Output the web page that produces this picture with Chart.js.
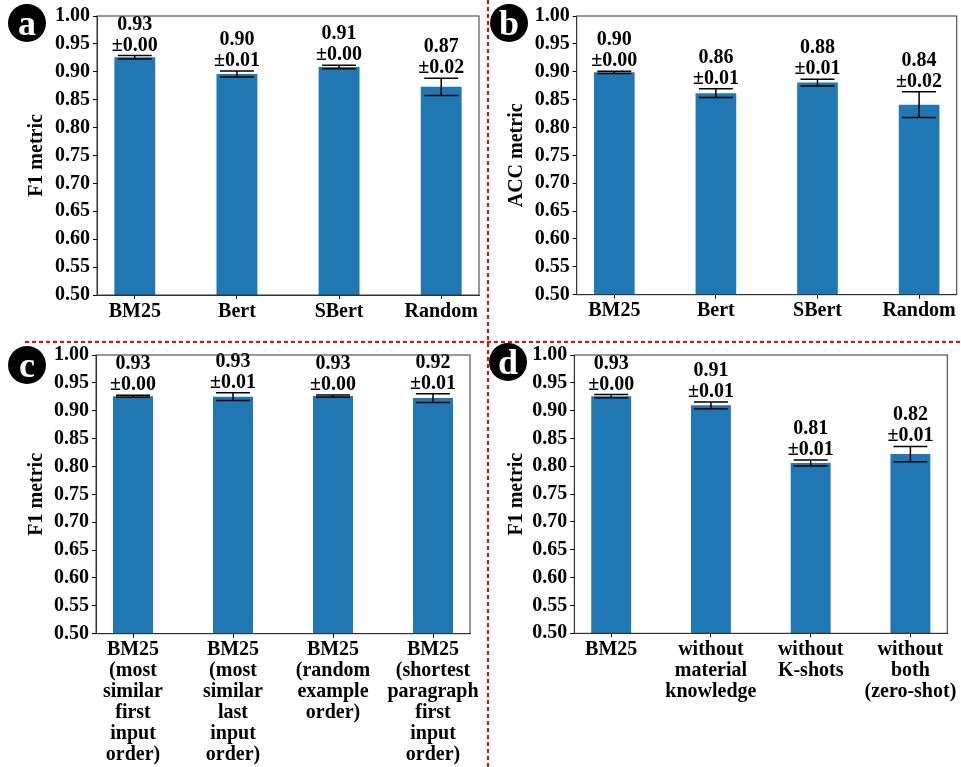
<!DOCTYPE html>
<html>
<head>
<meta charset="utf-8">
<script src="https://cdn.jsdelivr.net/npm/chart.js@4.4.0/dist/chart.umd.min.js"></script>
<style>
  body { margin: 0; background: #fff; }
  #page { position: relative; width: 961px; height: 767px; overflow: hidden; }
  canvas { position: absolute; }
  .tag {
    position: absolute; width: 38px; height: 38px; border-radius: 50%;
    background: #000; color: #fff; text-align: center;
    font: bold 36px "Liberation Serif", serif; line-height: 38px;
  }
  .vline {
    position: absolute; left: 487px; top: 0; width: 1.5px; height: 767px;
    background: repeating-linear-gradient(to bottom, #f00 0 4px, transparent 4px 7px);
  }
  .hline {
    position: absolute; left: 25px; top: 341px; width: 935px; height: 1.5px;
    background: repeating-linear-gradient(to right, #f00 0 4px, transparent 4px 7px);
  }
</style>
</head>
<body>
<div id="page">
  <canvas id="chartA" width="480" height="330" style="left:0;top:0"></canvas>
  <canvas id="chartB" width="481" height="330" style="left:480px;top:0"></canvas>
  <canvas id="chartC" width="480" height="427" style="left:0;top:340px"></canvas>
  <canvas id="chartD" width="481" height="427" style="left:480px;top:340px"></canvas>
  <div class="vline"></div>
  <div class="hline"></div>
  <div class="tag" style="left:8px;top:4px">a</div>
  <div class="tag" style="left:490px;top:4px">b</div>
  <div class="tag" style="left:8px;top:346px">c</div>
  <div class="tag" style="left:489px;top:343px">d</div>
</div>
<script>
// panel a / b : retrieval methods
const retrievalLabels = ["BM25", "Bert", "SBert", "Random"];
const aF1 = [0.926, 0.896, 0.9086, 0.873];
const aF1Err = [0.003, 0.0054, 0.003, 0.0155];
const bAcc = [0.899, 0.8615, 0.8805, 0.841];
const bAccErr = [0.002, 0.0078, 0.006, 0.023];

// panel c : example order
const orderLabels = [
  ["BM25", "(most", "similar", "first", "input", "order)"],
  ["BM25", "(most", "similar", "last", "input", "order)"],
  ["BM25", "(random", "example", "order)"],
  ["BM25", "(shortest", "paragraph", "first", "input", "order)"]
];
const cF1 = [0.926, 0.9252, 0.9264, 0.9228];
const cF1Err = [0.002, 0.0069, 0.002, 0.0078];

// panel d : ablation
const ablationLabels = [
  "BM25",
  ["without", "material", "knowledge"],
  ["without", "K-shots"],
  ["without", "both", "(zero-shot)"]
];
const dF1 = [0.926, 0.9096, 0.806, 0.822];
const dF1Err = [0.003, 0.006, 0.0055, 0.0137];

const yTicks = [0.5, 0.55, 0.6, 0.65, 0.7, 0.75, 0.8, 0.85, 0.9, 0.95, 1.0];

const serif = "'Liberation Serif', 'Times New Roman', serif";
const barBlue = "#1f77b4";

// error bars, value text and the top/right frame
const extras = {
  id: "extras",
  afterDatasetsDraw(chart) {
    const ctx = chart.ctx;
    const xs = chart.scales.x, ys = chart.scales.y;
    const vals = chart.data.datasets[0].data;
    const errs = chart.data.datasets[0].errors;
    ctx.save();
    vals.forEach((p, i) => {
      const x = xs.getPixelForValue(p.x);
      const yHi = ys.getPixelForValue(p.y + errs[i]);
      const yLo = ys.getPixelForValue(p.y - errs[i]);
      ctx.strokeStyle = "#000";
      ctx.lineWidth = 1.5;
      ctx.beginPath();
      ctx.moveTo(x, yHi); ctx.lineTo(x, yLo);
      ctx.moveTo(x - 17, yHi); ctx.lineTo(x + 17, yHi);
      ctx.moveTo(x - 17, yLo); ctx.lineTo(x + 17, yLo);
      ctx.stroke();
      ctx.fillStyle = "#000";
      ctx.font = "bold 20px " + serif;
      ctx.textAlign = "center";
      ctx.textBaseline = "alphabetic";
      ctx.fillText(p.y.toFixed(2), x, yHi - 26);
      ctx.fillText("\u00b1" + errs[i].toFixed(2), x, yHi - 5);
    });
    const a = chart.chartArea;
    ctx.strokeStyle = "#333";
    ctx.lineWidth = 1;
    ctx.strokeRect(a.left, a.top, a.right - a.left, a.bottom - a.top);
    ctx.restore();
  }
};

function makePanel(id, labels, values, errors, yTitle, g) {
  const pts = values.map((v, i) => ({ x: i, y: v }));
  return new Chart(document.getElementById(id), {
    type: "bar",
    data: {
      datasets: [{
        data: pts,
        errors: errors,
        backgroundColor: barBlue,
        borderWidth: 0,
        categoryPercentage: 1,
        barPercentage: 0.4
      }]
    },
    options: {
      responsive: false,
      animation: false,
      layout: { padding: { left: 0, right: g.right, top: g.top, bottom: 0 } },
      plugins: { legend: { display: false }, tooltip: { enabled: false } },
      scales: {
        x: {
          type: "linear",
          min: -0.37,
          max: 3.37,
          offset: false,
          afterBuildTicks: s => { s.ticks = [0, 1, 2, 3].map(v => ({ value: v })); },
          afterFit: s => { s.height = g.xh; s.paddingLeft = 0; s.paddingRight = 0; },
          grid: { offset: false, drawOnChartArea: false, drawTicks: true, tickLength: 4, tickColor: "#000" },
          border: { display: true, color: "#333", width: 1 },
          ticks: {
            autoSkip: false,
            maxRotation: 0,
            padding: 2,
            color: "#000",
            font: { family: serif, size: 20, weight: "bold", lineHeight: 1.05 },
            callback: v => labels[v]
          }
        },
        y: {
          min: 0.5,
          max: 1.0,
          afterBuildTicks: s => { s.ticks = yTicks.map(v => ({ value: v })); },
          afterFit: s => { s.width = g.yw; s.paddingTop = 0; s.paddingBottom = 0; },
          grid: { drawOnChartArea: false, drawTicks: true, tickLength: 4, tickColor: "#000" },
          border: { display: true, color: "#333", width: 1 },
          ticks: {
            padding: 3,
            color: "#000",
            font: { family: serif, size: 20, weight: "bold" },
            callback: v => v.toFixed(2)
          },
          title: {
            display: true,
            text: yTitle,
            color: "#000",
            padding: { top: 25, bottom: 0 },
            font: { family: serif, size: 20, weight: "bold", lineHeight: 1.2 }
          }
        }
      }
    },
    plugins: [extras]
  });
}

makePanel("chartA", retrievalLabels, aF1, aF1Err, "F1 metric", { right: 1, top: 16, yw: 97, xh: 35 });
makePanel("chartB", retrievalLabels, bAcc, bAccErr, "ACC metric", { right: 4.3, top: 16, yw: 96.7, xh: 35.3 });
makePanel("chartC", orderLabels, cF1, cF1Err, "F1 metric", { right: 10, top: 15, yw: 96, xh: 133.3 });
makePanel("chartD", ablationLabels, dF1, dF1Err, "F1 metric", { right: 13.7, top: 15, yw: 94.3, xh: 133.7 });
</script>
</body>
</html>
